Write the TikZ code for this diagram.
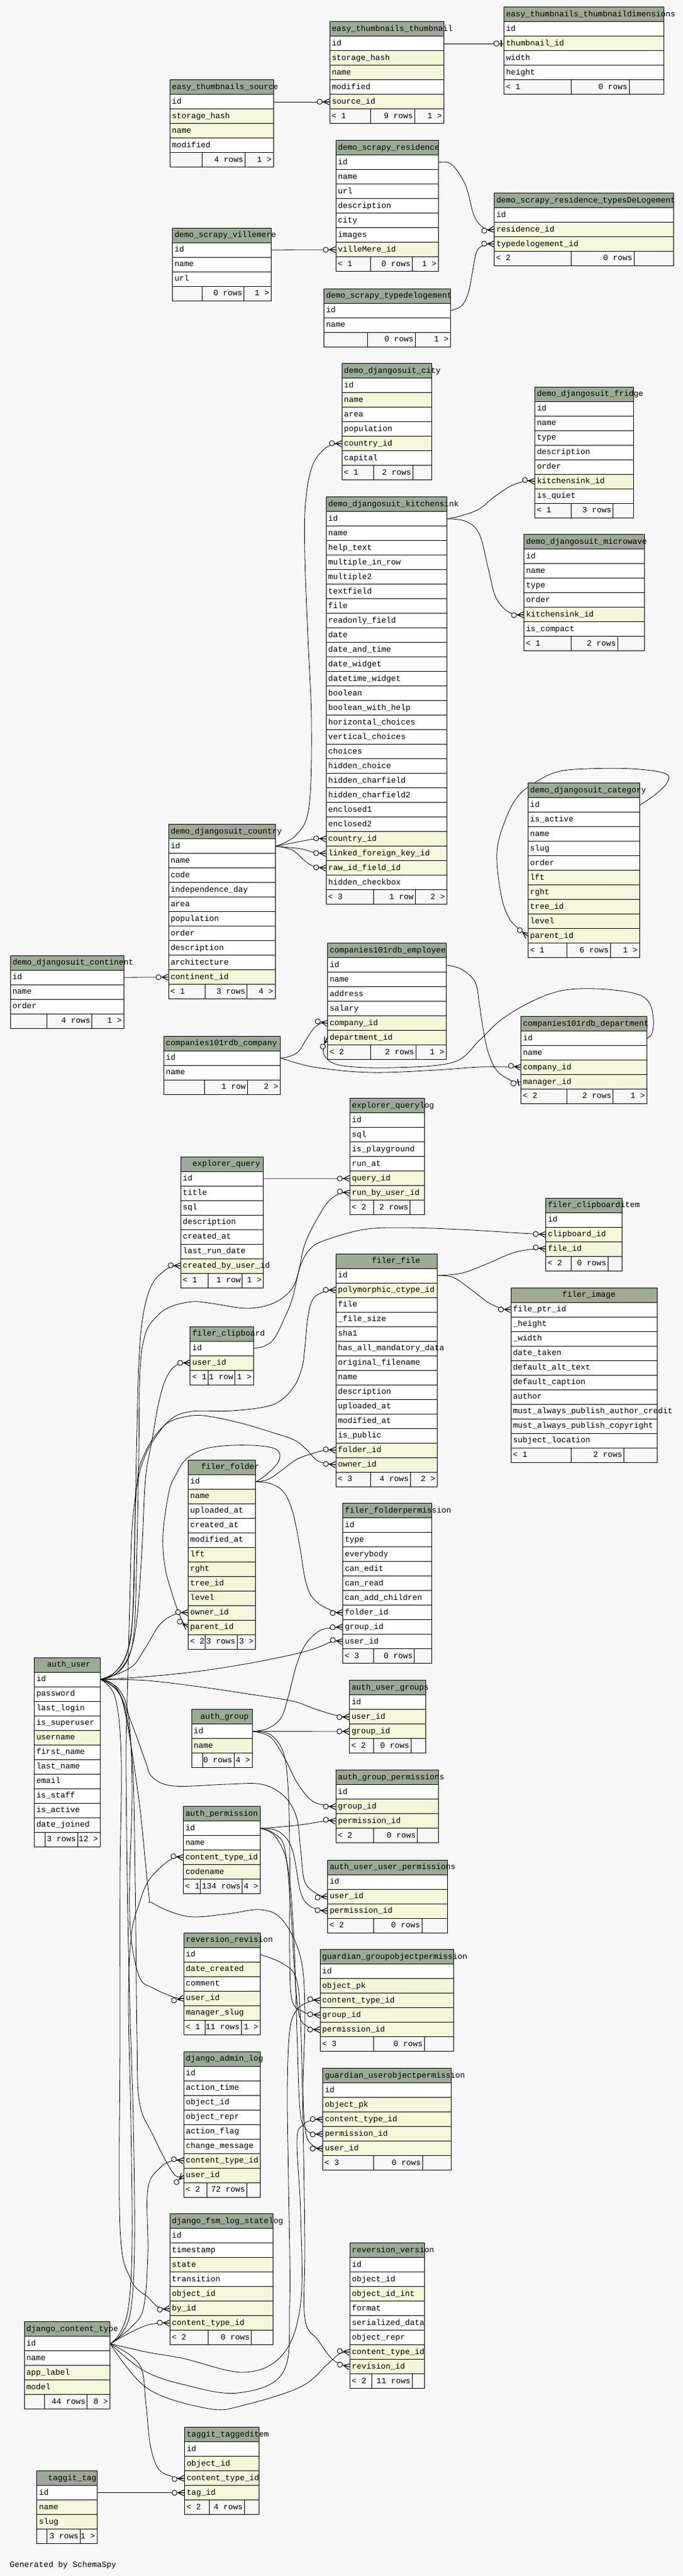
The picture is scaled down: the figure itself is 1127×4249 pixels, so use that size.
\documentclass[tikz,border=0pt]{standalone}
\usepackage{fontspec}
\setmainfont{Liberation Mono}

\definecolor{bgcol}{HTML}{F7F7F7}
\definecolor{hdrcol}{HTML}{9BAB96}
\definecolor{idx}{HTML}{F4F7DA}
\definecolor{plain}{HTML}{FFFFFF}

\pgfdeclarelayer{bg}
\pgfdeclarelayer{edges}
\pgfsetlayers{bg,edges,main}

%Crow's foot with an open circle (zero or many)
\pgfdeclarearrow{
  name = crowodot,
  setup code = {
    \pgfarrowssettipend{0pt}
    \pgfarrowssetlineend{0pt}
    \pgfarrowssetbackend{-21pt}
    \pgfarrowsupperhullpoint{0pt}{5pt}
    \pgfarrowsupperhullpoint{-21pt}{5pt}
  },
  drawing code = {
    \pgfsetlinewidth{1.1pt}
    \pgfpathmoveto{\pgfqpoint{0pt}{5pt}}
    \pgfpathlineto{\pgfqpoint{-10pt}{0pt}}
    \pgfpathlineto{\pgfqpoint{0pt}{-5pt}}
    \pgfpathmoveto{\pgfqpoint{-10pt}{0pt}}
    \pgfpathlineto{\pgfqpoint{0pt}{0pt}}
    \pgfusepathqstroke
    \pgfsetlinewidth{0.9pt}
    \pgfsetfillcolor{bgcol}
    \pgfpathcircle{\pgfqpoint{-16pt}{0pt}}{4.2pt}
    \pgfusepathqfillstroke
  }
}
%Bar with an open circle (zero or one)
\pgfdeclarearrow{
  name = teeodot,
  setup code = {
    \pgfarrowssettipend{0pt}
    \pgfarrowssetlineend{0pt}
    \pgfarrowssetbackend{-17pt}
    \pgfarrowsupperhullpoint{0pt}{5.5pt}
    \pgfarrowsupperhullpoint{-17pt}{5.5pt}
  },
  drawing code = {
    \pgfsetlinewidth{1.6pt}
    \pgfpathmoveto{\pgfqpoint{-4pt}{5.5pt}}
    \pgfpathlineto{\pgfqpoint{-4pt}{-5.5pt}}
    \pgfusepathqstroke
    \pgfsetlinewidth{0.9pt}
    \pgfsetfillcolor{bgcol}
    \pgfpathcircle{\pgfqpoint{-12pt}{0pt}}{4.5pt}
    \pgfusepathqfillstroke
  }
}

%Draws a table: prefix, x, y, width, title shift, title, rows (column/colour)
\newcommand{\dbtable}[7]{%
  \pgfmathsetmacro{\dbtw}{#4-7}%
  \node[tblhead, minimum width=#4pt, text width=\dbtw pt] (#1) at (#2,#3) {\hspace*{#5pt}\mbox{\detokenize{#6}}};%
  \foreach \cname/\ckind [count=\i] in {#7} {%
    \node[tblrow=\ckind, minimum width=#4pt, text width=\dbtw pt] (#1-\cname) at (#2,#3+24*\i) {\mbox{\expandafter\detokenize\expandafter{\cname}}};%
    \xdef\dbrows{\i}%
  }%
  \xdef\dbx{#2}\xdef\dby{#3}\xdef\dbw{#4}\xdef\dbname{#1}%
}
%Draws the footer of the last table: divider 1, divider 2, left, middle, right
\newcommand{\dbfoot}[5]{%
  \pgfmathsetmacro{\fy}{\dby+24*(\dbrows+1)}%
  \node[tblfoot, minimum width=\dbw pt] (\dbname-foot) at (\dbx,\fy) {};%
  \draw[line width=1pt] (#1,\fy) -- (#1,\fy+24) (#2,\fy) -- (#2,\fy+24);%
  \node[foottext, anchor=west] (\dbname-fl) at (\dbx+3.5,\fy+12) {#3};%
  \node[foottext, anchor=east] (\dbname-fm) at (#2-2.5,\fy+12) {#4};%
  \node[foottext, anchor=east] (\dbname-fr) at (\dbx+\dbw-2.5,\fy+12) {#5};%
}

\begin{document}
\begin{tikzpicture}[x=1pt, y=-1pt, font=\fontsize{13.3}{16}\selectfont,
  tblhead/.style={draw, fill=hdrcol, anchor=north west, minimum height=24pt, inner ysep=0pt, inner xsep=3.5pt, text height=10pt, text depth=2.5pt, line width=1pt, align=left},
  tblrow/.style={draw, fill=#1, anchor=north west, minimum height=24pt, inner ysep=0pt, inner xsep=3.5pt, text height=10pt, text depth=2.5pt, line width=1pt, align=left},
  tblfoot/.style={draw, fill=bgcol, anchor=north west, minimum height=24pt, inner sep=0pt, line width=1pt},
  foottext/.style={inner sep=0pt, text height=10pt, text depth=2.5pt},
  fk/.style={line width=0.8pt, -crowodot},
  fkone/.style={line width=0.8pt, -teeodot},
  route/.style={smooth, tension=0.6}]
	\useasboundingbox (0,0) rectangle (1127,4249);
	\begin{pgfonlayer}{bg}
		\fill[bgcol] (0,0) rectangle (1127,4249);
	\end{pgfonlayer}

	%Draws the thumbnail and scrapy tables
	\dbtable{thumb}{543.5}{35.4}{188.5}{0}{easy_thumbnails_thumbnail}{id/plain, storage_hash/idx, name/idx, modified/plain, source_id/idx}
	\dbfoot{611}{684}{< 1}{9 rows}{1 >}
	\dbtable{dims}{831}{11.4}{264}{0}{easy_thumbnails_thumbnaildimensions}{id/plain, thumbnail_id/idx, width/plain, height/plain}
	\dbfoot{942.5}{1038}{< 1}{0 rows}{}
	\dbtable{src}{279.6}{131.4}{171.2}{0}{easy_thumbnails_source}{id/plain, storage_hash/idx, name/idx, modified/plain}
	\dbfoot{333.6}{404}{}{4 rows}{1 >}
	\dbtable{res}{553.6}{231.4}{169.4}{0}{demo_scrapy_residence}{id/plain, name/plain, url/plain, description/plain, city/plain, images/plain, villeMere_id/idx}
	\dbfoot{611}{680}{< 1}{0 rows}{1 >}
	\dbtable{restype}{815}{317.9}{296}{0}{demo_scrapy_residence_typesDeLogement}{id/plain, residence_id/idx, typedelogement_id/idx}
	\dbfoot{942.5}{1046}{< 2}{0 rows}{}
	\dbtable{ville}{284}{375.7}{163}{0}{demo_scrapy_villemere}{id/plain, name/plain, url/plain}
	\dbfoot{333.6}{402.6}{}{0 rows}{1 >}
	\dbtable{tdl}{534}{475.7}{209}{0}{demo_scrapy_typedelogement}{id/plain, name/plain}
	\dbfoot{606}{685}{}{0 rows}{1 >}

	%Draws the djangosuit tables
	\dbtable{city}{563.6}{599.3}{148.8}{0}{demo_djangosuit_city}{id/plain, name/idx, area/plain, population/plain, country_id/idx, capital/plain}
	\dbfoot{616}{681}{< 1}{2 rows}{}
	\dbtable{fridge}{882}{637.5}{163}{0}{demo_djangosuit_fridge}{id/plain, name/plain, type/plain, description/plain, order/plain, kitchensink_id/idx, is_quiet/plain}
	\dbfoot{942.5}{1011.5}{< 1}{3 rows}{}
	\dbtable{ks}{537.7}{819.3}{199.3}{0}{demo_djangosuit_kitchensink}{id/plain, name/plain, help_text/plain, multiple_in_row/plain, multiple2/plain, textfield/plain, file/plain, readonly_field/plain, date/plain, date_and_time/plain, date_widget/plain, datetime_widget/plain, boolean/plain, boolean_with_help/plain, horizontal_choices/plain, vertical_choices/plain, choices/plain, hidden_choice/plain, hidden_charfield/plain, hidden_charfield2/plain, enclosed1/plain, enclosed2/plain, country_id/idx, linked_foreign_key_id/idx, raw_id_field_id/idx, hidden_checkbox/plain}
	\dbfoot{616}{685}{< 3}{1 row}{2 >}
	\dbtable{micro}{864}{881.4}{198.5}{0}{demo_djangosuit_microwave}{id/plain, name/plain, type/plain, order/plain, kitchensink_id/idx, is_compact/plain}
	\dbfoot{942.5}{1019}{< 1}{2 rows}{}
	\dbtable{cat}{870.6}{1291.4}{184}{0}{demo_djangosuit_category}{id/plain, is_active/plain, name/plain, slug/plain, order/plain, lft/idx, rght/idx, tree_id/idx, level/idx, parent_id/idx}
	\dbfoot{935}{1007}{< 1}{6 rows}{1 >}
	\dbtable{ctry}{277.5}{1359.3}{176.1}{0}{demo_djangosuit_country}{id/plain, name/plain, code/plain, independence_day/plain, area/plain, population/plain, order/plain, description/plain, architecture/plain, continent_id/idx}
	\dbfoot{338.6}{407.6}{< 1}{3 rows}{4 >}
	\dbtable{cont}{16.5}{1575.7}{187}{0}{demo_djangosuit_continent}{id/plain, name/plain, order/plain}
	\dbfoot{77}{151.7}{}{4 rows}{1 >}

	%Draws the companies tables
	\dbtable{emp}{540}{1555.4}{196}{0}{companies101rdb_employee}{id/plain, name/plain, address/plain, salary/plain, company_id/idx, department_id/idx}
	\dbfoot{611}{686}{< 2}{2 rows}{1 >}
	\dbtable{dept}{859}{1676}{208}{0}{companies101rdb_department}{id/plain, name/plain, company_id/idx, manager_id/idx}
	\dbfoot{935}{1011.5}{< 2}{2 rows}{1 >}
	\dbtable{comp}{269.6}{1708.6}{192.4}{0}{companies101rdb_company}{id/plain, name/plain}
	\dbfoot{337}{408}{}{1 row}{2 >}

	%Draws the explorer and filer tables
	\dbtable{qlog}{576.6}{1811.4}{123.4}{0}{explorer_querylog}{id/plain, sql/plain, is_playground/plain, run_at/plain, query_id/idx, run_by_user_id/idx}
	\dbfoot{616.8}{676.5}{< 2}{2 rows}{}
	\dbtable{query}{297.6}{1907.5}{136.6}{16}{explorer_query}{id/plain, title/plain, sql/plain, description/plain, created_at/plain, last_run_date/plain, created_by_user_id/idx}
	\dbfoot{343}{399.7}{< 1}{1 row}{1 >}
	\dbtable{clipi}{900}{1975.7}{126}{0}{filer_clipboarditem}{id/plain, clipboard_id/idx, file_id/idx}
	\dbfoot{942.5}{1003}{< 2}{0 rows}{}
	\dbtable{file}{553.6}{2067.5}{167.4}{56}{filer_file}{id/plain, polymorphic_ctype_id/idx, file/plain, _file_size/plain, sha1/plain, has_all_mandatory_data/plain, original_filename/plain, name/plain, description/plain, uploaded_at/plain, modified_at/plain, is_public/plain, folder_id/idx, owner_id/idx}
	\dbfoot{611}{677}{< 3}{4 rows}{2 >}
	\dbtable{image}{842.5}{2123.6}{241}{81.3}{filer_image}{file_ptr_id/plain, _height/plain, _width/plain, date_taken/plain, default_alt_text/plain, default_caption/plain, author/plain, must_always_publish_author_credit/plain, must_always_publish_copyright/plain, subject_location/plain}
	\dbfoot{942.5}{1029.5}{< 1}{2 rows}{}
	\dbtable{clip}{313.4}{2187.5}{104.3}{0}{filer_clipboard}{id/plain, user_id/idx}
	\dbfoot{343}{387.5}{< 1}{1 row}{1 >}
	\dbtable{folder}{309.8}{2407.5}{111.5}{18}{filer_folder}{id/plain, name/idx, uploaded_at/plain, created_at/plain, modified_at/plain, lft/idx, rght/idx, tree_id/idx, level/idx, owner_id/idx, parent_id/idx}
	\dbfoot{338}{391}{< 2}{3 rows}{3 >}
	\dbtable{fperm}{565}{2479.3}{147.4}{0}{filer_folderpermission}{id/plain, type/plain, everybody/plain, can_edit/plain, can_read/plain, can_add_children/plain, folder_id/plain, group_id/plain, user_id/plain}
	\dbfoot{616.8}{683.7}{< 3}{0 rows}{}

	%Draws the auth tables
	\dbtable{user}{56}{2733.6}{108.6}{17.5}{auth_user}{id/plain, password/plain, last_login/plain, is_superuser/plain, username/idx, first_name/plain, last_name/plain, email/plain, is_staff/plain, is_active/plain, date_joined/plain}
	\dbfoot{74.8}{128}{}{3 rows}{12 >}
	\dbtable{ugroups}{576}{2771.4}{125.6}{0}{auth_user_groups}{id/plain, user_id/idx, group_id/idx}
	\dbfoot{616.8}{678}{< 2}{0 rows}{}
	\dbtable{group}{315.6}{2819.3}{99.9}{11}{auth_group}{id/plain, name/idx}
	\dbfoot{334}{386}{}{0 rows}{4 >}
	\dbtable{gperms}{553.6}{2919.3}{169.4}{0}{auth_group_permissions}{id/plain, group_id/idx, permission_id/idx}
	\dbfoot{616.8}{688.7}{< 2}{0 rows}{}
	\dbtable{perm}{302}{2979.3}{127}{0}{auth_permission}{id/plain, name/plain, content_type_id/idx, codename/idx}
	\dbfoot{330.7}{399.7}{< 1}{134 rows}{4 >}
	\dbtable{uperms}{540}{3067.5}{197.6}{0}{auth_user_user_permissions}{id/plain, user_id/idx, permission_id/idx}
	\dbfoot{616.8}{696}{< 2}{0 rows}{}

	%Draws the reversion, guardian, django and taggit tables
	\dbtable{revision}{302.7}{3187.5}{126.3}{0}{reversion_revision}{id/plain, date_created/idx, comment/plain, user_id/idx, manager_slug/idx}
	\dbfoot{338}{398}{< 1}{11 rows}{1 >}
	\dbtable{gobj}{527.7}{3215.4}{220.7}{0}{guardian_groupobjectpermission}{id/plain, object_pk/idx, content_type_id/idx, group_id/idx, permission_id/idx}
	\dbfoot{616}{700}{< 3}{0 rows}{}
	\dbtable{adminlog}{302.7}{3383.6}{126.3}{0}{django_admin_log}{id/plain, action_time/plain, object_id/plain, object_repr/plain, action_flag/plain, change_message/plain, content_type_id/idx, user_id/idx}
	\dbfoot{341.5}{407}{< 2}{72 rows}{}
	\dbtable{uobj}{532}{3411.4}{212}{0}{guardian_userobjectpermission}{id/plain, object_pk/idx, content_type_id/idx, permission_id/idx, user_id/idx}
	\dbfoot{616}{697}{< 3}{0 rows}{}
	\dbtable{statelog}{279.7}{3651.4}{170.3}{0}{django_fsm_log_statelog}{id/plain, timestamp/plain, state/idx, transition/plain, object_id/idx, by_id/idx, content_type_id/idx}
	\dbfoot{343.6}{414.8}{< 2}{0 rows}{}
	\dbtable{version}{576.6}{3699.3}{123.4}{0}{reversion_version}{id/plain, object_id/plain, object_id_int/idx, format/plain, serialized_data/plain, object_repr/plain, content_type_id/idx, revision_id/idx}
	\dbfoot{613}{680}{< 2}{11 rows}{}
	\dbtable{ctype}{39.5}{3829.3}{141.5}{0}{django_content_type}{id/plain, name/plain, app_label/idx, model/idx}
	\dbfoot{73.3}{143.8}{}{44 rows}{8 >}
	\dbtable{tagged}{304}{4003.3}{123}{0}{taggit_taggeditem}{id/plain, object_id/idx, content_type_id/idx, tag_id/idx}
	\dbfoot{345.8}{403.3}{< 2}{4 rows}{}
	\dbtable{tag}{60.4}{4075.3}{99.2}{15}{taggit_tag}{id/plain, name/idx, slug/idx}
	\dbfoot{77.6}{132.3}{}{3 rows}{1 >}

	\node[anchor=west, inner sep=0pt] (credit) at (16,4231) {Generated by SchemaSpy};

	\begin{pgfonlayer}{edges}
	%Draws the straight relations
	\draw[fkone] (thumb-id.east) -- (dims-thumbnail_id.west);
	\draw[fk] (src-id.east) -- (thumb-source_id.west);
	\draw[fk] (ville-id.east) -- (res-villeMere_id.west);
	\draw[fk] (cont-id.east) -- (ctry-continent_id.west);
	\draw[fk] (query-id.east) -- (qlog-query_id.west);
	\draw[fk] (group-id.east) -- (ugroups-group_id.west);
	\draw[fk] (tag-id.east) -- (tagged-tag_id.west);

	%Draws the curved relations in the upper half
	\draw[fk] plot[route] coordinates {(res-id.east) (745,271) (768,305) (782,355) (798,376) (restype-residence_id.west)};
	\draw[fk] plot[route] coordinates {(tdl-id.east) (762,504) (773,482) (780,446) (787,414) (800,404) (restype-typedelogement_id.west)};
	\draw[fk] plot[route] coordinates {(ctry-id.east) (489,1377) (510,1330) (514,1191) (508,1050) (503,917) (504,830) (516,767) (540,737) (city-country_id.west)};
	\draw[fk] plot[route] coordinates {(ks-id.east) (760,851) (790,840) (815,820) (842,802) (866,794) (fridge-kitchensink_id.west)};
	\draw[fk] plot[route] coordinates {(ks-id.east) (769,860) (791,881) (805,935) (818,985) (840,1010) (micro-kitchensink_id.west)};
	\draw[fk] plot[route] coordinates {(ctry-id.east) (490,1389) (518,1384) (ks-country_id.west)};
	\draw[fk] plot[route] coordinates {(ctry-id.east) (496,1400) (518,1406) (ks-linked_foreign_key_id.west)};
	\draw[fk] plot[route] coordinates {(ctry-id.east) (482,1402) (503,1420) (518,1429) (ks-raw_id_field_id.west)};
	\draw[fk] plot[route] coordinates {(cat-id.east) (1078,1313) (1100,1292) (1098,1276) (1042,1268) (970,1268) (920,1273) (884,1290) (855,1313) (834,1352) (820,1406) (827,1477) (841,1516) (860,1535) (cat-parent_id.west)};
	\draw[fk] plot[route] coordinates {(comp-id.east) (476,1743) (492,1735) (505,1715) (518,1696) (530,1688) (emp-company_id.west)};
	\draw[fk] plot[route] coordinates {(dept-id.east) (1076,1704) (1078,1680) (1070,1652) (1045,1638) (985,1631) (927,1634) (877,1652) (827,1682) (791,1716) (748,1752) (647,1761) (561,1757) (534,1738) (emp-department_id.west)};
	\draw[fk] plot[route] coordinates {(comp-id.east) (518,1760) (611,1769) (719,1765) (791,1760) (845,1760) (dept-company_id.west)};
	\draw[fkone] plot[route] coordinates {(emp-id.east) (762,1599) (784,1620) (791,1656) (796,1690) (805,1734) (820,1766) (845,1783) (dept-manager_id.west)};

	%Draws the explorer and filer relations
	\draw[fk] plot[route] coordinates {(user-id.east) (190,2762) (212,2735) (222,2680) (226,2550) (229,2400) (231,2260) (240,2200) (257,2173) (280,2156) (317,2147) (350,2150) (407,2158) (450,2150) (480,2128) (492,2100) (502,2055) (518,2020) (540,1984) (560,1969) (qlog-run_by_user_id.west)};
	\draw[fk] plot[route] coordinates {(user-id.east) (188,2760) (208,2730) (218,2680) (222,2550) (225,2400) (229,2250) (236,2170) (250,2120) (270,2097) (285,2089) (query-created_by_user_id.west)};
	\draw[fk] plot[route] coordinates {(clip-id.east) (437,2220) (453,2207) (470,2173) (483,2140) (495,2090) (510,2062) (533,2047) (600,2028) (669,2025) (760,2028) (860,2034) (clipi-clipboard_id.west)};
	\draw[fk] plot[route] coordinates {(file-id.east) (762,2100) (805,2084) (848,2066) (884,2060) (clipi-file_id.west)};
	\draw[fk] plot[route] coordinates {(file-id.east) (748,2107) (776,2126) (805,2148) (827,2158) (image-file_ptr_id.west)};
	\draw[fk] plot[route] coordinates {(user-id.east) (192,2760) (214,2728) (226,2670) (234,2560) (240,2440) (250,2380) (260,2323) (268,2290) (278,2266) (292,2251) (clip-user_id.west)};
	\draw[fk] plot[route] coordinates {(ctype-id.east) (200,3850) (216,3810) (222,3700) (220,3500) (214,3300) (210,3100) (208,2900) (210,2800) (214,2650) (218,2520) (228,2440) (240,2400) (257,2370) (283,2340) (317,2328) (383,2327) (450,2317) (483,2290) (498,2257) (503,2223) (508,2173) (517,2142) (537,2130) (file-polymorphic_ctype_id.west)};
	\draw[fk] plot[route] coordinates {(folder-id.east) (443,2440) (465,2425) (490,2407) (517,2397) (537,2392) (file-folder_id.west)};
	\draw[fk] plot[route] coordinates {(user-id.east) (190,2758) (210,2725) (220,2650) (223,2500) (228,2430) (240,2395) (256,2368) (280,2345) (317,2335) (350,2337) (400,2348) (450,2363) (485,2375) (505,2390) (525,2410) (file-owner_id.west)};
	\draw[fk] plot[route] coordinates {(folder-id.east) (440,2432) (460,2410) (458,2392) (430,2385) (383,2384) (337,2390) (307,2407) (290,2433) (279,2460) (269,2530) (272,2583) (283,2626) (294,2658) (302,2676) (folder-parent_id.west)};
	\draw[fk] plot[route] coordinates {(user-id.east) (194,2761) (220,2747) (235,2726) (246,2708) (261,2683) (276,2669) (294,2661) (folder-owner_id.west)};
	\draw[fk] plot[route] coordinates {(folder-id.east) (446,2447) (468,2461) (483,2494) (494,2547) (505,2611) (520,2640) (548,2657) (fperm-folder_id.west)};
	\draw[fk] plot[route] coordinates {(group-id.east) (442,2851) (464,2833) (476,2797) (490,2744) (505,2711) (527,2690) (548,2685) (fperm-group_id.west)};
	\draw[fk] plot[route] coordinates {(user-id.east) (224,2767) (317,2758) (409,2744) (483,2729) (520,2719) (548,2708) (fperm-user_id.west)};

	%Draws the auth relations
	\draw[fk] plot[route] coordinates {(user-id.east) (243,2772) (335,2783) (409,2794) (483,2806) (520,2819) (557,2830) (ugroups-user_id.west)};
	\draw[fk] plot[route] coordinates {(group-id.east) (446,2865) (468,2897) (490,2940) (513,2969) (537,2978) (gperms-group_id.west)};
	\draw[fk] plot[route] coordinates {(perm-id.east) (460,3013.6) (503,3009) (537,3003.5) (gperms-permission_id.west)};
	\draw[fk] plot[route] coordinates {(ctype-id.east) (198,3848) (212,3805) (218,3700) (216,3500) (212,3300) (217,3190) (230,3139) (244,3104) (266,3079) (286,3065) (perm-content_type_id.west)};
	\draw[fk] plot[route] coordinates {(user-id.east) (195,2790) (220,2850) (240,2905) (252,2932) (288,2946) (374,2943) (431,2943) (467,2961) (489,2996) (496,3050) (503,3104) (525,3125) (uperms-user_id.west)};
	\draw[fk] plot[route] coordinates {(perm-id.east) (460,3021) (482,3050) (496,3121) (510,3143) (528,3150) (uperms-permission_id.west)};
	\draw[fk] plot[route] coordinates {(user-id.east) (195,2785) (212,2830) (218,2950) (214,3100) (216,3193) (230,3261) (252,3279) (288,3294.6) (revision-user_id.west)};

	%Draws the guardian, log, version and tag relations
	\draw[fk] plot[route] coordinates {(group-id.east) (446,2861) (467,2889) (475,2943) (478,3050) (478,3229) (482,3300) (500,3318) (512,3322) (gobj-group_id.west)};
	\draw[fk] plot[route] coordinates {(perm-id.east) (452,3024) (470,3050) (480,3150) (486,3250) (494,3325) (510,3344) (gobj-permission_id.west)};
	\draw[fk] plot[route] coordinates {(ctype-id.east) (237,3910) (302,3933) (392,3947) (467,3913) (478,3800) (476,3600) (474,3450) (478,3350) (490,3315) (512,3301) (gobj-content_type_id.west)};
	\draw[fk] plot[route] coordinates {(ctype-id.east) (216,3839) (237,3806) (244,3717) (244,3610) (266,3574) (286,3564) (adminlog-content_type_id.west)};
	\draw[fk] plot[route] coordinates {(user-id.east) (200,2800) (218,2900) (223,3100) (226,3360) (230,3467) (252,3521) (286,3585) (adminlog-user_id.west)};
	\draw[fk] plot[route] coordinates {(ctype-id.east) (244,3880) (302,3890) (403,3913) (467,3883) (496,3800) (496,3650) (490,3530) (500,3505) (515,3497) (uobj-content_type_id.west)};
	\draw[fk] plot[route] coordinates {(perm-id.east) (455,3030) (475,3080) (485,3200) (490,3350) (495,3480) (505,3512) (518,3519) (uobj-permission_id.west)};
	\draw[fk] plot[route] coordinates {(user-id.east) (200,2800) (228,2960) (245,3120) (252,3139) (309,3161) (374,3157) (431,3150) (467,3168) (496,3229) (503,3318) (500,3450) (505,3520) (518,3540) (uobj-user_id.west)};
	\draw[fk] plot[route] coordinates {(user-id.east) (190,2800) (200,2900) (198,3100) (198,3360) (198,3674) (216,3760) (244,3789) (262,3806) (statelog-by_id.west)};
	\draw[fk] plot[route] coordinates {(ctype-id.east) (210,3850) (240,3836) (262,3832) (statelog-content_type_id.west)};
	\draw[fk] plot[route] coordinates {(ctype-id.east) (244,3940) (345,3973) (403,3967) (496,3937) (540,3900) (561,3882) (version-content_type_id.west)};
	\draw[fk] plot[route] coordinates {(revision-id.east) (467,3239) (489,3264) (496,3336) (500,3500) (503,3700) (503,3824) (525,3860) (546,3889) (561,3899) (version-revision_id.west)};
	\draw[fk] plot[route] coordinates {(ctype-id.east) (230,3900) (241,3967) (248,4033) (262,4073) (288,4086) (tagged-content_type_id.west)};
	\end{pgfonlayer}
\end{tikzpicture}
\end{document}
